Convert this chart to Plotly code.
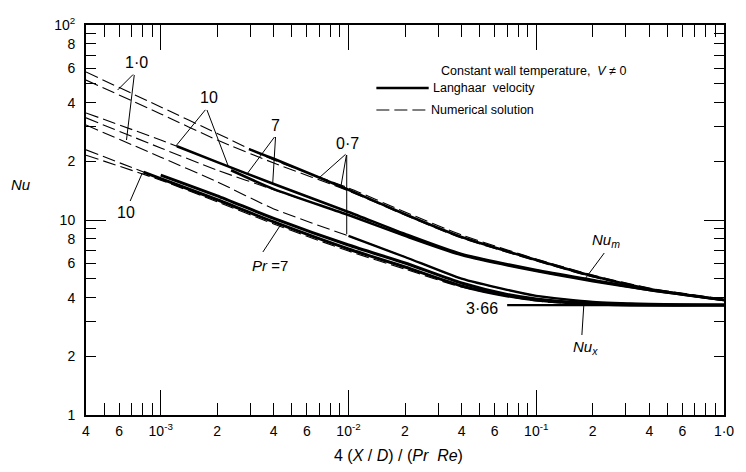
import plotly.graph_objects as go

# ---------------- data ----------------
# abscissa: 4(X/D)/(Pr Re); ordinate: Nu
x_num = [4e-4, 1e-3, 2e-3, 4e-3, 1e-2, 2e-2, 4e-2, 0.1, 0.2, 0.4, 1.0]
num_m_pr1_a = [57.4, 38.0, 27.8, 20.3, 14.6, 11.0, 8.38, 6.31, 5.22, 4.48, 3.93]
num_m_pr1_b = [52.2, 35.0, 25.7, 19.6, 14.1, 10.6, 8.08, 6.17, 5.10, 4.43, 3.89]
num_m_pr10 = [35.4, 25.7, 19.8, 15.3, 11.0, 8.48, 6.69, 5.54, 4.92, 4.38, 3.89]
num_m_pr7 = [33.4, 23.4, 18.0, 14.3, 10.6, 8.29, 6.61, 5.47, 4.86, 4.38, 3.89]
num_x_pr1 = [30.7, 21.0, 15.7, 11.4, 8.28, 6.46, 5.00, 4.08, 3.80, 3.71, 3.66]
num_x_pr10_a = [22.9, 16.3, 12.7, 9.77, 7.10, 5.74, 4.59, 3.89, 3.71, 3.66, 3.66]
num_x_pr10_b = [21.5, 16.0, 12.4, 9.54, 6.93, 5.60, 4.53, 3.84, 3.68, 3.66, 3.66]

# Langhaar velocity (solid)
lang_m_pr07_x = [2.95e-3, 4e-3, 1e-2, 2e-2, 4e-2, 0.1, 0.2, 0.4, 1.0]
lang_m_pr07 = [23.1, 20.6, 14.3, 10.7, 8.18, 6.24, 5.16, 4.43, 3.89]
lang_m_pr10_x = [1.22e-3, 2e-3, 4e-3, 1e-2, 2e-2, 4e-2, 0.1, 0.2, 0.4, 1.0]
lang_m_pr10 = [23.9, 19.8, 15.3, 11.0, 8.48, 6.69, 5.54, 4.92, 4.38, 3.89]
lang_m_pr7_x = [2.37e-3, 4e-3, 1e-2, 2e-2, 4e-2, 0.1, 0.2, 0.4, 1.0]
lang_m_pr7 = [18.0, 14.4, 10.6, 8.29, 6.61, 5.47, 4.86, 4.38, 3.89]
lang_x_pr07_x = [1e-2, 2e-2, 4e-2, 7e-2, 0.1, 0.2, 0.4, 1.0]
lang_x_pr07 = [8.28, 6.46, 5.00, 4.38, 4.08, 3.80, 3.71, 3.66]
lang_x_pr10_x = [8.1e-4, 1e-3, 2e-3, 4e-3, 1e-2, 2e-2, 4e-2, 7e-2, 0.1, 0.2, 0.4, 1.0]
lang_x_pr10 = [17.6, 16.3, 12.7, 9.77, 7.10, 5.74, 4.59, 4.08, 3.89, 3.71, 3.66, 3.66]
lang_x_pr7_x = [1e-3, 2e-3, 4e-3, 1e-2, 2e-2, 4e-2, 7e-2, 0.1, 0.2, 0.4, 1.0]
lang_x_pr7 = [17.0, 13.3, 10.2, 7.44, 6.02, 4.75, 4.15, 3.93, 3.73, 3.66, 3.66]

asym_x = [0.07, 1.0]
asym_nu = [3.66, 3.66]

# tick labels
x_tickvals = [4e-4, 5e-4, 6e-4, 7e-4, 8e-4, 9e-4, 1e-3, 2e-3, 3e-3, 4e-3, 5e-3, 6e-3, 7e-3, 8e-3, 9e-3,
              1e-2, 2e-2, 3e-2, 4e-2, 5e-2, 6e-2, 7e-2, 8e-2, 9e-2, 0.1, 0.2, 0.3, 0.4, 0.5, 0.6, 0.7, 0.8, 0.9, 1.0]
x_ticktext = ["4", "", "6", "", "", "", "10<sup>-3</sup>", "2", "", "4", "", "6", "", "", "",
              "10<sup>-2</sup>", "2", "", "4", "", "6", "", "", "", "10<sup>-1</sup>", "2", "", "4", "", "6", "", "", "", "1·0"]
x_decades = [1e-3, 1e-2, 1e-1]
y_tickvals = [1, 2, 3, 4, 5, 6, 7, 8, 9, 10, 20, 30, 40, 50, 60, 70, 80, 90, 100]
y_ticktext = ["1", "2", "", "4", "", "6", "", "8", "", "10", "2", "", "4", "", "6", "", "8", "", "10<sup>2</sup>"]
y_decades = [10]

# ---------------- figure ----------------
W, H = 746, 472
L, R, T, B = 86, 732, 25, 415
FONT = "Liberation Sans"

fig = go.Figure()

dash_style = dict(color="black", width=1.1, dash="13px,5px")
for yv in [num_m_pr1_a, num_m_pr1_b, num_m_pr10, num_m_pr7, num_x_pr1, num_x_pr10_a, num_x_pr10_b]:
    fig.add_trace(go.Scatter(x=x_num, y=yv, mode="lines", line=dict(**dash_style, shape="spline", smoothing=0.6),
                             showlegend=False, hoverinfo="skip"))

for xv, yv, w in [(lang_m_pr07_x, lang_m_pr07, 2.6), (lang_m_pr10_x, lang_m_pr10, 2.6),
                  (lang_m_pr7_x, lang_m_pr7, 2.6), (lang_x_pr07_x, lang_x_pr07, 2.4),
                  (lang_x_pr10_x, lang_x_pr10, 3.0), (lang_x_pr7_x, lang_x_pr7, 3.0)]:
    fig.add_trace(go.Scatter(x=xv, y=yv, mode="lines", line=dict(color="black", width=w, shape="spline", smoothing=0.6),
                             showlegend=False, hoverinfo="skip"))

fig.add_trace(go.Scatter(x=asym_x, y=asym_nu, mode="lines", line=dict(color="black", width=2.2),
                         showlegend=False, hoverinfo="skip"))
# carrier for the overlay axes that draw the long decade ticks
fig.add_trace(go.Scatter(x=[], y=[], xaxis="x2", yaxis="y2", showlegend=False))


def pxx(x):
    return (x - L) / (R - L)


def pyy(y):
    return (B - y) / (B - T)


ann = []


def label(text, x, y, size=15, anchor="center"):
    ann.append(dict(text=text, x=pxx(x), y=pyy(y), xref="paper", yref="paper", showarrow=False,
                    xanchor=anchor, yanchor="middle", font=dict(family=FONT, size=size, color="black")))


def pointer(tail, tip):
    ann.append(dict(text=" ", x=pxx(tip[0]), y=pyy(tip[1]), xref="paper", yref="paper",
                    ax=tail[0] - tip[0], ay=tail[1] - tip[1], showarrow=True, arrowhead=0,
                    arrowwidth=1, arrowcolor="black", standoff=0, startstandoff=0,
                    font=dict(size=1)))


label("1·0", 137, 62, size=16)
pointer((135, 73), (118, 90))
pointer((135, 73), (127, 140))
label("10", 211, 97, size=16)
pointer((208, 108), (177, 146))
pointer((208, 108), (230, 166))
label("7", 278, 126, size=16)
pointer((278, 135), (249, 174))
pointer((278, 135), (275, 184))
label("0·7", 351, 143, size=16)
pointer((350, 153), (323, 177))
pointer((350, 153), (344, 187))
pointer((350, 153), (350, 234))
label("10", 126, 213, size=16)
pointer((130, 203), (143, 173))
label("<i>Pr</i> =7", 272, 265)
pointer((264, 254), (283, 225))
label("<i>Nu<sub>m</sub></i>", 613, 240)
pointer((612, 251), (592, 278))
label("3·66", 487, 308, size=16)
label("<i>Nu<sub>x</sub></i>", 592, 347)
pointer((588, 337), (590, 306))

# legend block
label("Constant wall temperature,  <i>V</i> ≠ 0", 443, 71, size=12.5, anchor="left")
label("Langhaar  velocity", 435, 88, size=12.5, anchor="left")
label("Numerical solution", 433, 110, size=12.5, anchor="left")

# axis titles
label("<i>Nu</i>", 20, 184, size=15)
label("4 (<i>X</i> / <i>D</i>) / (<i>Pr  Re</i>)", 402, 455, size=16)

shapes = [
    dict(type="line", xref="paper", yref="paper", x0=pxx(380), x1=pxx(433), y0=pyy(88), y1=pyy(88),
         line=dict(color="black", width=2.5)),
    dict(type="line", xref="paper", yref="paper", x0=pxx(380), x1=pxx(431), y0=pyy(110), y1=pyy(110),
         line=dict(color="black", width=1.1, dash="13px,5px")),
]

axis_common = dict(type="log", showgrid=False, zeroline=False, showline=True, linecolor="black",
                   linewidth=2, mirror="ticks", ticks="inside", tickcolor="black", tickwidth=1.2)

fig.update_layout(
    width=W, height=H,
    margin=dict(l=L, r=W - R, t=T, b=H - B),
    paper_bgcolor="white", plot_bgcolor="white",
    font=dict(family=FONT, size=14, color="black"),
    xaxis=dict(**axis_common, range=[-3.39794, 0], tickmode="array", tickvals=x_tickvals, ticktext=x_ticktext,
               ticklen=12, tickfont=dict(family=FONT, size=14), ticklabelstandoff=2),
    yaxis=dict(**axis_common, range=[0, 2], tickmode="array", tickvals=y_tickvals, ticktext=y_ticktext,
               ticklen=10, tickfont=dict(family=FONT, size=14), ticklabelstandoff=6),
    xaxis2=dict(**axis_common, overlaying="x", anchor="y2", range=[-3.39794, 0], tickmode="array",
                tickvals=x_decades, ticklen=25, showticklabels=False),
    yaxis2=dict(**axis_common, overlaying="y", anchor="x2", side="left", range=[0, 2], tickmode="array",
                tickvals=y_decades, ticklen=20, showticklabels=False),
    annotations=ann,
    shapes=shapes,
)

fig.write_html("out.html", config={"displayModeBar": False},
               post_script="document.body.style.margin='0';document.body.style.padding='0';")
